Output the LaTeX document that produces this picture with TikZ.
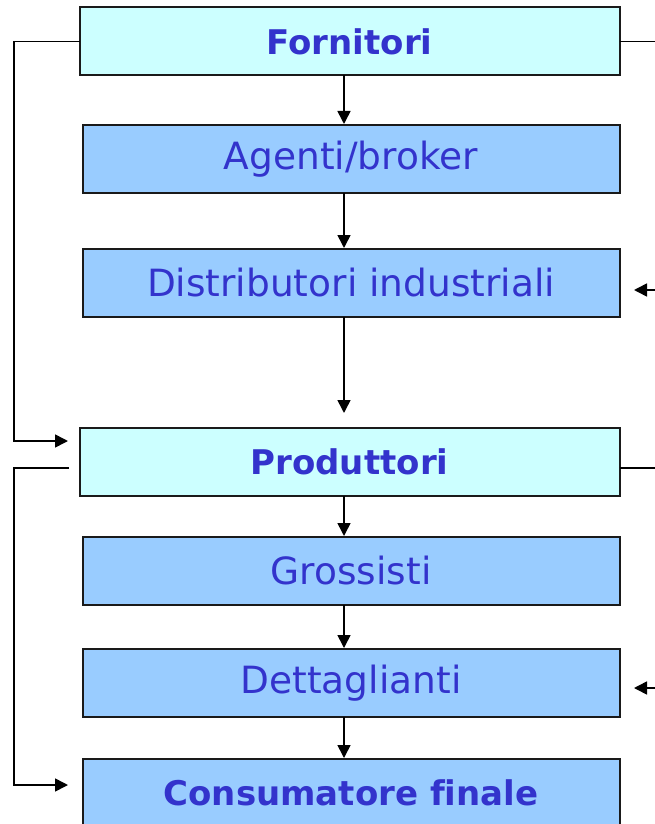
\documentclass[tikz,border=0pt]{standalone}
\usepackage{fontspec}
\setmainfont[Ligatures=NoCommon]{DejaVu Sans}
\usetikzlibrary{arrows.meta}
\definecolor{txtblue}{HTML}{3333CC}
\definecolor{cyanfill}{HTML}{CCFFFF}
\definecolor{bluefill}{HTML}{99CCFF}
\definecolor{edgecol}{HTML}{1A1A1A}
\begin{document}
\begin{tikzpicture}[x=1pt,y=-1pt,
  box/.style={draw=edgecol, line width=2pt, rectangle, inner sep=0pt, outer sep=0pt,
    anchor=north west, text=txtblue, font=\fontsize{37.5}{40}\selectfont},
  mainbox/.style={box, fill=cyanfill, minimum width=540pt, minimum height=68pt,
    font=\fontsize{34}{40}\selectfont\bfseries},
  subbox/.style={box, fill=bluefill, minimum width=537pt, minimum height=68pt},
  conn/.style={line width=1.6pt, draw=black},
  arr/.style={conn, -{Triangle[length=13pt,width=13pt]}}]
\useasboundingbox (0,0) rectangle (655,824);
\clip (0,0) rectangle (655,824);

\node[mainbox] (forn) at (79.5,7.5) {Fornitori};
\node[subbox] (agenti) at (82.5,125) {Agenti/broker};
\node[subbox] (distr) at (82.5,249) {Distributori industriali};
\node[mainbox] (prod) at (79.5,428) {Produttori};
\node[subbox] (gross) at (82.5,537) {Grossisti};
\node[subbox] (dett) at (82.5,649) {Dettaglianti};
\node[subbox] (cons) at (82.5,759) {\fontsize{34}{40}\selectfont\bfseries Consumatore finale};

% helper coordinates
\coordinate (ax) at (344,0);
\coordinate (re) at (656,0);
\coordinate (t0) at (344,413);
\coordinate (l1) at (14,441);
\coordinate (t1) at (68,441);
\coordinate (s2) at (69,468);
\coordinate (l2) at (14,785);
\coordinate (t2) at (68,785);

% vertical flow
\draw[arr, shorten >=1pt] (forn.south -| ax) -- (agenti.north -| ax);
\draw[arr, shorten >=1pt] (agenti.south -| ax) -- (distr.north -| ax);
\draw[arr] (distr.south -| ax) -- (t0);
\draw[arr, shorten >=1pt] (prod.south -| ax) -- (gross.north -| ax);
\draw[arr, shorten >=1pt] (gross.south -| ax) -- (dett.north -| ax);
\draw[arr, shorten >=1pt] (dett.south -| ax) -- (cons.north -| ax);

% left loops
\draw[arr] (forn.west) -| (l1) -- (t1);
\draw[arr] (s2) -| (l2) -- (t2);

% right side
\draw[conn] (forn.east) -- (forn.east -| re);
\draw[conn] ([yshift=-6pt]prod.east) -- ([yshift=-6pt]prod.east -| re);
\draw[arr] ([yshift=-7pt]distr.east -| re) -- ([xshift=14.5pt,yshift=-7pt]distr.east);
\draw[arr] ([yshift=-5pt]dett.east -| re) -- ([xshift=14.5pt,yshift=-5pt]dett.east);
\end{tikzpicture}
\end{document}
